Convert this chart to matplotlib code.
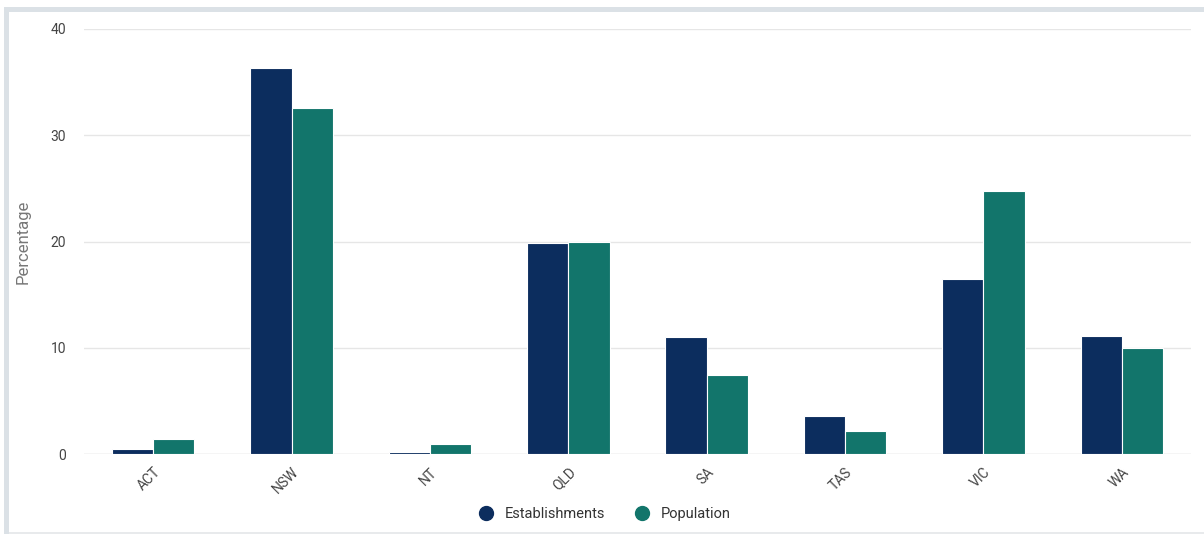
import numpy as np
import matplotlib.pyplot as plt
from matplotlib.patches import Rectangle
from matplotlib.lines import Line2D

plt.rcParams['font.family'] = ['Roboto', 'DejaVu Sans']

states = ["ACT", "NSW", "NT", "QLD", "SA", "TAS", "VIC", "WA"]
establishments = [0.5, 36.3, 0.2, 19.9, 11.0, 3.6, 16.5, 11.1]
population = [1.4, 32.6, 0.9, 20.0, 7.4, 2.2, 24.8, 10.0]

navy = "#0c2d5e"
teal = "#12756b"

W, H = 1204, 534
fig = plt.figure(figsize=(W / 100, H / 100), dpi=100)
ax = fig.add_axes([84 / W, 80 / H, 1107 / W, 425 / H])

x = np.arange(len(states))
w = 0.298
ax.bar(x - w / 2, establishments, w, color=navy, edgecolor="white", linewidth=0.8, zorder=3)
ax.bar(x + w / 2, population, w, color=teal, edgecolor="white", linewidth=0.8, zorder=3)

ax.set_xlim(-0.5, len(states) - 0.5)
ax.set_ylim(0, 40)
ax.set_yticks([0, 10, 20, 30, 40])
ax.set_xticks(x)
ax.set_xticklabels(states, rotation=45, ha="right", rotation_mode="anchor")
ax.tick_params(axis="both", length=0, labelsize=10, colors="#444444")
ax.tick_params(axis="x", pad=8)
ax.tick_params(axis="y", pad=13)
ax.grid(axis="y", color="#e6e6e6", linewidth=1, zorder=0)
for s in ax.spines.values():
    s.set_visible(False)
ax.axhline(0, color="#e2e2e2", linewidth=1, zorder=2)
ax.set_ylabel("Percentage", fontsize=12, color="#777777", labelpad=14)

# legend
handles = [
    Line2D([], [], marker="o", linestyle="", markersize=10, color=navy),
    Line2D([], [], marker="o", linestyle="", markersize=10, color=teal),
]
fig.legend(handles, ["Establishments", "Population"], loc="center",
           bbox_to_anchor=(601 / W, 1 - 514 / H), ncol=2, frameon=False,
           fontsize=10.5, handletextpad=0.3, columnspacing=1.5,
           labelcolor="#333333")

# frame: left and top bands, thin line at the bottom
frame = "#dbe1e6"
fig.patches.append(Rectangle((4 / W, 0), 5 / W, 1 - 7 / H, transform=fig.transFigure,
                             facecolor=frame, edgecolor="none"))
fig.patches.append(Rectangle((4 / W, 1 - 12 / H), 1 - 4 / W, 5 / H, transform=fig.transFigure,
                             facecolor=frame, edgecolor="none"))
fig.patches.append(Rectangle((9 / W, 0), 1 - 9 / W, 2 / H, transform=fig.transFigure,
                             facecolor="#e8eaec", edgecolor="none"))

fig.savefig("out.png", dpi=100, facecolor="white")
